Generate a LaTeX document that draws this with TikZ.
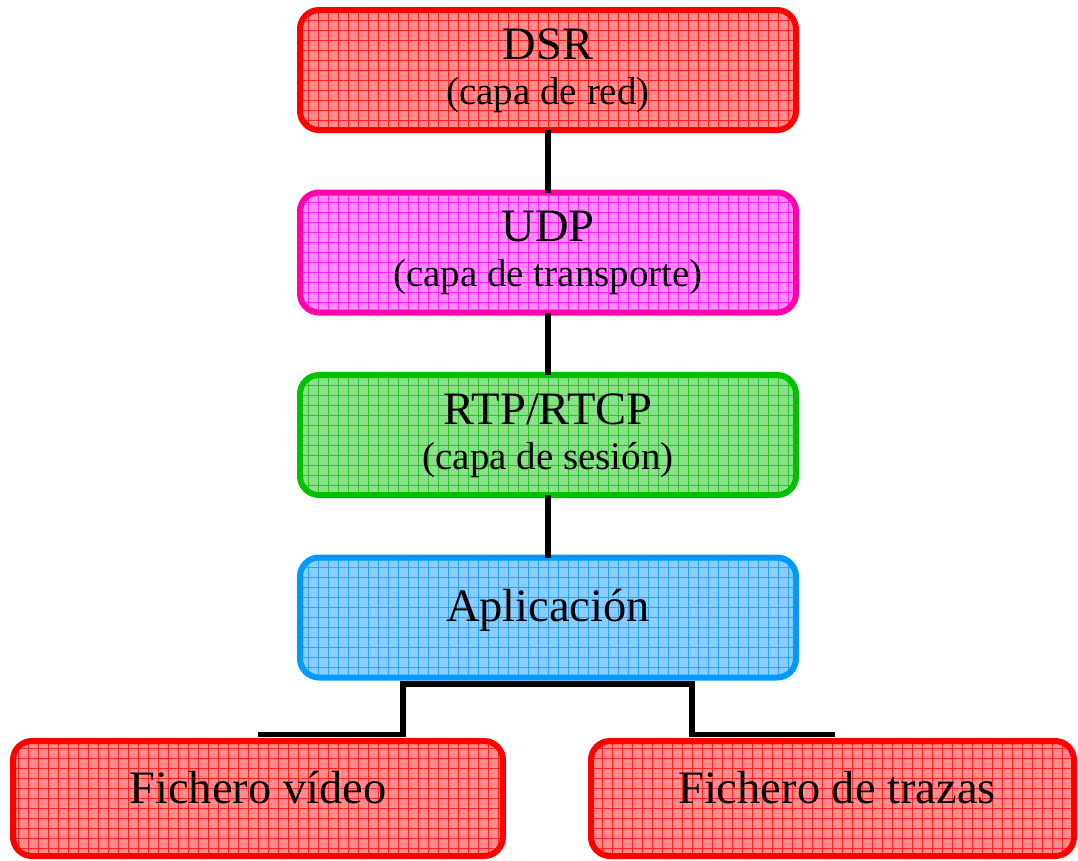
\documentclass[tikz,border=0pt]{standalone}
\usepackage{fontspec}
\setmainfont{Liberation Serif}
\definecolor{redB}{HTML}{FF0000}
\definecolor{redF}{HTML}{FF8C8C}
\definecolor{pinkB}{HTML}{FF00AA}
\definecolor{pinkF}{HTML}{FF8CFF}
\definecolor{pinkG}{HTML}{FF00FF}
\definecolor{greenB}{HTML}{00C000}
\definecolor{greenF}{HTML}{8CE08C}
\definecolor{blueB}{HTML}{0099FF}
\definecolor{blueF}{HTML}{8CCDFF}
\tikzset{
  layerbox/.style n args={3}{
    draw=#1, fill=#2, line width=6pt, rectangle, rounded corners=19pt,
    inner sep=0pt, outer sep=0pt,
    path picture={\draw[#3, line width=0.9pt, opacity=0.75]
      (path picture bounding box.south west) grid[step=10pt]
      (path picture bounding box.north east);}
  },
  stackbox/.style={minimum width=496pt, minimum height=120pt},
  titletext/.style={font=\fontsize{46.5}{46.5}\selectfont, anchor=base, inner sep=0pt},
  subtext/.style={font=\fontsize{39}{39}\selectfont, anchor=base, inner sep=0pt},
  conn/.style={line width=5.5pt, black}
}
\begin{document}
\begin{tikzpicture}[x=1pt,y=1pt]
\useasboundingbox (0,0) rectangle (1078,-860);
% boxes
\node[layerbox={redB}{redF}{redB}, stackbox] (dsr) at (548,-70) {};
\node[layerbox={pinkB}{pinkF}{pinkG}, stackbox] (udp) at (548,-252.5) {};
\node[layerbox={greenB}{greenF}{greenB}, stackbox] (rtp) at (548,-435) {};
\node[layerbox={blueB}{blueF}{blueB}, stackbox] (app) at (548,-617.5) {};
\node[layerbox={redB}{redF}{redB}, minimum width=490pt, minimum height=115pt] (fv) at (258,-798.5) {};
\node[layerbox={redB}{redF}{redB}, minimum width=483pt, minimum height=115pt] (ft) at (832.5,-798.5) {};
% texts
\node[titletext] (dsrT) at ([yshift=-49pt]dsr.north) {DSR};
\node[subtext] (dsrS) at ([yshift=-94pt]dsr.north) {(capa de red)};
\node[titletext] (udpT) at ([yshift=-49pt]udp.north) {UDP};
\node[subtext] (udpS) at ([yshift=-94pt]udp.north) {(capa de transporte)};
\node[titletext] (rtpT) at ([yshift=-49pt]rtp.north) {RTP/RTCP};
\node[subtext] (rtpS) at ([yshift=-94pt]rtp.north) {(capa de sesión)};
\node[titletext] (appT) at ([yshift=-3.5pt]app.center) {Aplicación};
\node[titletext] (fvT) at ([yshift=-4.5pt]fv.center) {Fichero vídeo};
\node[titletext] (ftT) at ([xshift=4.5pt,yshift=-4.5pt]ft.center) {Fichero de trazas};
% connectors
\draw[conn] (dsr.south) -- (udp.north);
\draw[conn] (udp.south) -- (rtp.north);
\draw[conn] (rtp.south) -- (app.north);
\coordinate (jl) at (403,-684);
\coordinate (jr) at (692,-684);
\coordinate (fvtop) at (258,-734.5);
\coordinate (fttop) at (835,-734.5);
\draw[conn] ([xshift=-2.75pt]jl) -- ([xshift=2.75pt]jr);
\draw[conn] (jl) -- (jl |- fvtop) -- (fvtop);
\draw[conn] (jr) -- (jr |- fttop) -- (fttop);
\end{tikzpicture}
\end{document}
